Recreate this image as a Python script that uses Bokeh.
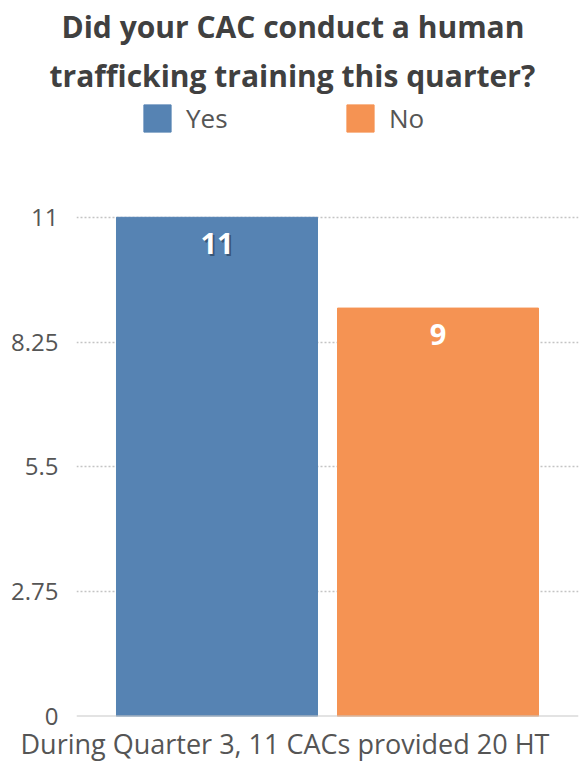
from bokeh.plotting import figure
from bokeh.models import (FactorRange, Range1d, FixedTicker, Legend, Title,
                          LegendItem, ColumnDataSource, Span)
from bokeh.core.properties import value
from bokeh.embed import file_html
from bokeh.resources import INLINE

# ---- data ----
categories = ["Yes", "No"]
counts = [11, 9]
bar_colors = ["#5683B3", "#F59353"]
label_shadow_alpha = [0.5, 0.0]
y_tick_values = [0, 2.75, 5.5, 8.25, 11]
y_tick_labels = ["0", "2.75", "5.5", "8.25", "11"]
title_lines = ["Did your CAC conduct a human", "trafficking training this quarter?"]
footnote = "During Quarter 3, 11 CACs provided 20 HT"

FONT = "Open Sans"
TITLE_COLOR = "#404040"
TEXT_COLOR = "#555555"

# ---- layout geometry (pixels) ----
FRAME_TOP, GRID_TOP, FRAME_BOTTOM = 96, 216, 716
y_max = max(y_tick_values) * (FRAME_BOTTOM - FRAME_TOP) / (FRAME_BOTTOM - GRID_TOP)

source = ColumnDataSource(dict(
    cat=categories,
    count=counts,
    color=bar_colors,
    label=[str(c) for c in counts],
    shadow=label_shadow_alpha,
))

p = figure(
    width=581, height=768,
    x_range=FactorRange(factors=categories, range_padding=0.1357,
                        range_padding_units="absolute"),
    y_range=Range1d(0, y_max),
    output_backend="svg", toolbar_location=None,
    min_border_left=76, min_border_right=3,
    min_border_top=FRAME_TOP, min_border_bottom=768 - FRAME_BOTTOM,
)
p.title.visible = False
p.outline_line_color = None
p.background_fill_color = "white"
p.border_fill_color = "white"

bars = p.vbar(x="cat", top="count", width=0.9095, source=source,
              fill_color="color", line_color="color")

# value labels (with a soft shadow on the first)
p.text(x="cat", y="count", text="label", source=source,
       x_offset=2, y_offset=28, text_color="#1d2c40", text_alpha="shadow",
       text_font=value(FONT), text_font_style="bold", text_font_size="29px",
       text_align="center", text_baseline="middle")
p.text(x="cat", y="count", text="label", source=source,
       y_offset=26, text_color="white",
       text_font=value(FONT), text_font_style="bold", text_font_size="29px",
       text_align="center", text_baseline="middle")

# axes
p.xaxis.visible = False
p.add_layout(Span(location=0, dimension="width", line_color="#c8c8c8", line_width=2))

p.yaxis.ticker = FixedTicker(ticks=y_tick_values)
p.yaxis.major_label_overrides = dict(zip(y_tick_values, y_tick_labels))
p.yaxis.axis_line_color = None
p.yaxis.major_tick_line_color = None
p.yaxis.minor_tick_line_color = None
p.yaxis.major_tick_in = 0
p.yaxis.major_tick_out = 0
p.yaxis.minor_tick_in = 0
p.yaxis.minor_tick_out = 0
p.yaxis.major_label_text_font = FONT
p.yaxis.major_label_text_font_size = "24px"
p.yaxis.major_label_text_color = TEXT_COLOR
p.yaxis.major_label_standoff = 18

p.xgrid.visible = False
p.ygrid.ticker = FixedTicker(ticks=y_tick_values)
p.ygrid.grid_line_color = "#c4c4c4"
p.ygrid.grid_line_dash = "2 2"
p.ygrid.grid_line_width = 1.5

# legend (inside the frame, above the top gridline)
legend = Legend(
    items=[LegendItem(label=value(c), renderers=[bars], index=i)
           for i, c in enumerate(categories)],
    orientation="horizontal", location=(64, 580),
    glyph_width=34, glyph_height=34, label_standoff=12, label_width=60,
    label_height=27, spacing=97, padding=0, margin=0,
    border_line_color=None, background_fill_alpha=0,
    label_text_font=FONT, label_text_font_size="26px",
    label_text_color=TEXT_COLOR, label_text_baseline="middle",
)
p.add_layout(legend)

# title (two lines); later-added titles sit further from the plot
for line, off, so in zip(reversed(title_lines), [-27, -15], [4, 7]):
    p.add_layout(Title(text=line, align="left", offset=off, standoff=so,
                       text_font=FONT, text_font_style="bold",
                       text_font_size="30px", text_color=TITLE_COLOR), "above")

# footnote
p.add_layout(Title(text=footnote, align="left", offset=-56, standoff=12,
                   text_font=FONT, text_font_style="normal",
                   text_font_size="27px", text_color=TEXT_COLOR), "below")

open("out.html", "w").write(file_html(p, INLINE))
